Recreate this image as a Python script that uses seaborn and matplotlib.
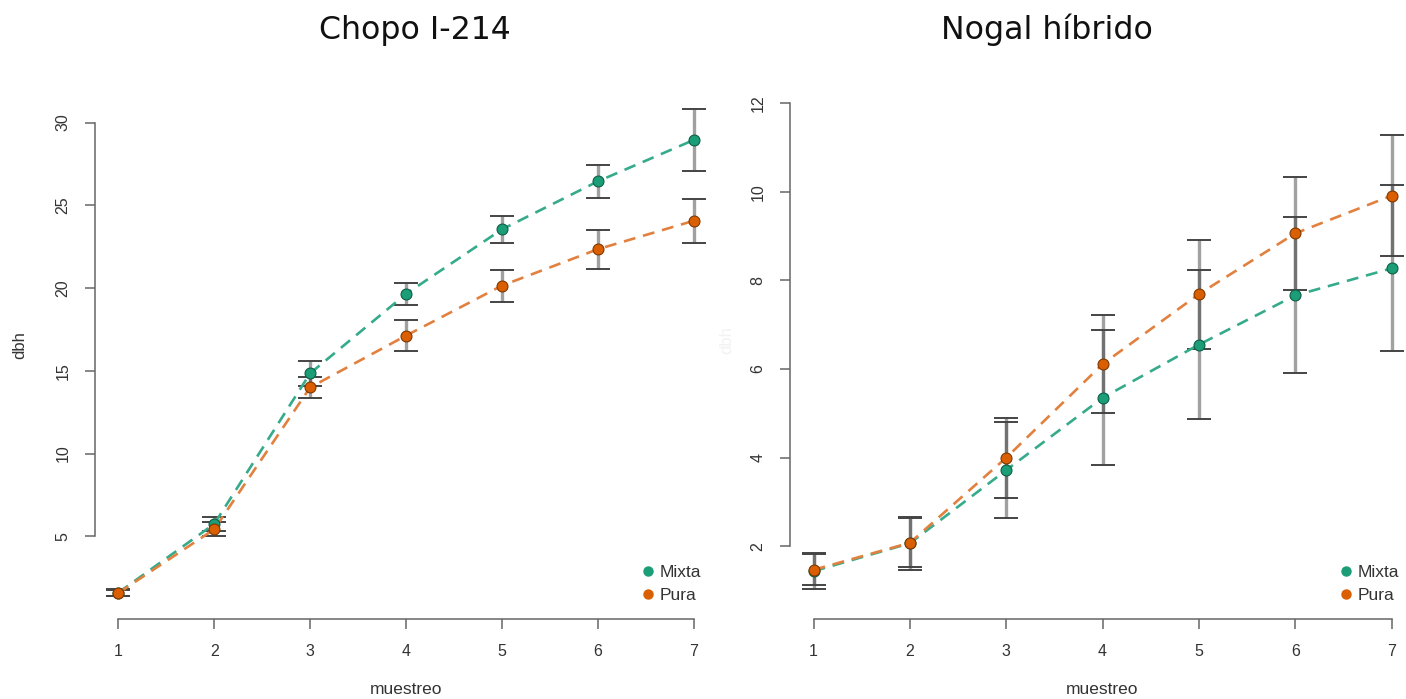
import matplotlib
matplotlib.use("Agg")
import matplotlib.pyplot as plt
from matplotlib.lines import Line2D
import seaborn as sns
import pandas as pd

# --- données ---
muestreo = [1, 2, 3, 4, 5, 6, 7]

chopo_mixta = [1.6, 5.75, 14.85, 19.65, 23.55, 26.45, 28.95]
chopo_mixta_err = [0.23, 0.45, 0.75, 0.68, 0.80, 1.00, 1.88]
chopo_pura = [1.58, 5.43, 14.0, 17.13, 20.15, 22.35, 24.07]
chopo_pura_err = [0.20, 0.42, 0.62, 0.93, 0.96, 1.17, 1.33]

nogal_mixta = [1.44, 2.07, 3.72, 5.35, 6.55, 7.66, 8.27]
nogal_mixta_err = [0.40, 0.60, 1.09, 1.52, 1.68, 1.76, 1.87]
nogal_pura = [1.47, 2.08, 4.0, 6.11, 7.69, 9.06, 9.91]
nogal_pura_err = [0.35, 0.55, 0.90, 1.11, 1.23, 1.28, 1.36]

tratamientos = ["Mixta", "Pura"]
col_punto = {"Mixta": "#1B9E77", "Pura": "#D95F02"}
col_borde = {"Mixta": "#0f5e47", "Pura": "#7f3800"}
col_linea = {"Mixta": "#35ab8b", "Pura": "#e2813f"}

sns.set_style("ticks")
plt.rcParams["font.family"] = ["Liberation Sans", "DejaVu Sans"]

fig = plt.figure(figsize=(14.06, 6.99), dpi=100)
ax1 = fig.add_axes([0.0678, 0.115, 0.442, 0.756])
ax2 = fig.add_axes([0.5622, 0.115, 0.444, 0.756])


def dibujar(ax, mixta, mixta_err, pura, pura_err, ylim, yticks):
    df = pd.DataFrame({
        "muestreo": muestreo * 2,
        "dbh": mixta + pura,
        "err": mixta_err + pura_err,
        "trat": ["Mixta"] * len(muestreo) + ["Pura"] * len(muestreo),
    })
    # barras de error: trazo vertical gris semitransparente, remates oscuros
    for t in tratamientos:
        d = df[df["trat"] == t]
        _, caps, barras = ax.errorbar(d["muestreo"], d["dbh"], yerr=d["err"],
                                      fmt="none", ecolor="#444444",
                                      elinewidth=2.4, capsize=8.5,
                                      capthick=1.4, zorder=2)
        for b in barras:
            b.set_alpha(0.5)
        for c in caps:
            c.set_color("#4d4d4d")
    for t in tratamientos:
        d = df[df["trat"] == t]
        sns.lineplot(data=d, x="muestreo", y="dbh", ax=ax, color=col_linea[t],
                     linewidth=1.9, zorder=3)
        ax.lines[-1].set_dashes((4.5, 3))
        sns.scatterplot(data=d, x="muestreo", y="dbh", ax=ax, color=col_punto[t],
                        edgecolor=col_borde[t], linewidth=0.8, s=62, zorder=4)

    ax.set_xlim(0.76, 7.24)
    ax.set_ylim(*ylim)
    ax.set_xticks(muestreo)
    ax.set_yticks(yticks)
    sns.despine(ax=ax)
    ax.spines["left"].set_bounds(yticks[0], yticks[-1])
    ax.spines["bottom"].set_bounds(1, 7)
    for s in ["left", "bottom"]:
        ax.spines[s].set_color("#666666")
        ax.spines[s].set_linewidth(1.1)
    ax.tick_params(axis="both", colors="#666666", length=7, width=1.1,
                   labelsize=11.5, labelcolor="#333333", pad=11)
    ax.tick_params(axis="y", labelrotation=90)
    for lab in ax.get_yticklabels():
        lab.set_va("center")
    ax.set_xlabel("")
    ax.set_ylabel("")

    handles = [Line2D([], [], marker="o", linestyle="none", markersize=6.5,
                      markerfacecolor=col_punto[t], markeredgecolor=col_punto[t])
               for t in tratamientos]
    ax.legend(handles, tratamientos, loc="lower right", bbox_to_anchor=(1.0, 0.0),
              frameon=False, fontsize=12.5, handletextpad=0.15, labelspacing=0.45,
              borderaxespad=0.5, handlelength=1.0, labelcolor="#333333")


dibujar(ax1, chopo_mixta, chopo_mixta_err, chopo_pura, chopo_pura_err,
        (0.03, 31.96), [5, 10, 15, 20, 25, 30])
dibujar(ax2, nogal_mixta, nogal_mixta_err, nogal_pura, nogal_pura_err,
        (0.37, 12.29), [2, 4, 6, 8, 10, 12])

# títulos y etiquetas
fig.text(415 / 1406, 1 - 30 / 699, "Chopo I-214", ha="center", va="center",
         fontsize=22.8, family="DejaVu Sans", color="#111111")
fig.text(1047 / 1406, 1 - 30 / 699, "Nogal híbrido", ha="center", va="center",
         fontsize=22.8, family="DejaVu Sans", color="#111111")
fig.text(20 / 1406, 1 - 345 / 699, "dbh", rotation=90, ha="center", va="center",
         fontsize=12, color="#333333")
fig.text(727 / 1406, 1 - 340 / 699, "dbh", rotation=90, ha="center", va="center",
         fontsize=12, color="#f2f2f2")
fig.text(406 / 1406, 1 - 690 / 699, "muestreo", ha="center", va="center",
         fontsize=12.5, color="#333333")
fig.text(1102 / 1406, 1 - 690 / 699, "muestreo", ha="center", va="center",
         fontsize=12.5, color="#333333")

fig.savefig("out.png", dpi=100)
